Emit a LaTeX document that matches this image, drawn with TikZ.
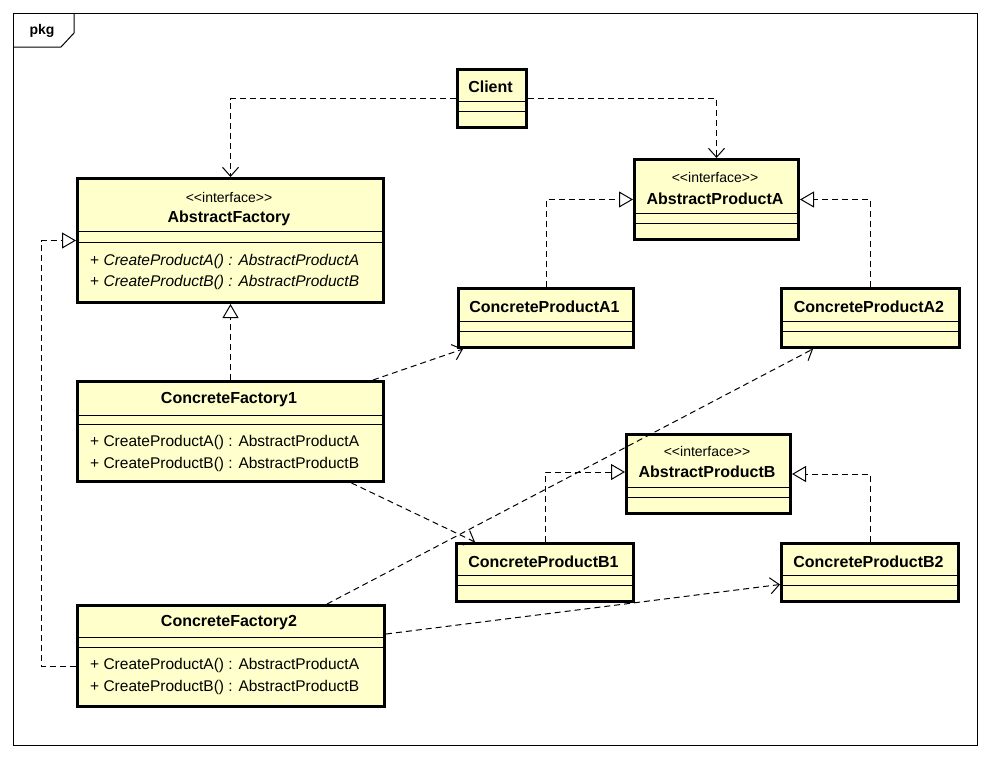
\documentclass[tikz,border=0pt]{standalone}
\usepackage{fontspec}
\setmainfont{Liberation Sans}
\usetikzlibrary{arrows.meta,calc}
\definecolor{umlfill}{HTML}{FFFFCC}
\newcommand{\stereo}[1]{\textless\kern0pt\textless#1\textgreater\kern0pt\textgreater}
\tikzset{
  umlbox/.style={draw=black,line width=3pt,fill=umlfill,inner sep=0pt,anchor=north west},
  sep/.style={draw=black,line width=1pt},
  conn/.style={draw=black,line width=1pt,dash pattern=on 6pt off 4pt},
  dep/.style={conn,-{Straight Barb[length=9pt,width=16pt,line width=1pt]}},
  real/.style={conn,-{Triangle[open,length=14pt,width=16pt,line width=1pt,fill=white]}},
  nm/.style={font=\fontsize{16}{18}\selectfont\bfseries,inner sep=0pt},
  st/.style={font=\fontsize{14}{16}\selectfont,inner sep=0pt},
  op/.style={font=\fontsize{15.5}{17}\selectfont,inner sep=0pt,anchor=west},
}
\begin{document}
\begin{tikzpicture}[x=1pt,y=-1pt]
\useasboundingbox (0,0) rectangle (990,758);
\fill[white] (0,0) rectangle (990,758);
% frame
\draw[line width=1pt] (13,13) rectangle (977,745);
\draw[line width=1pt] (74,13) -- (74,33) -- (61,47) -- (13,47);
\node[font=\fontsize{14}{16}\selectfont\bfseries,inner sep=0pt] (pkg) at (42,31) {pkg};

% Client
\node[umlbox,minimum width=69pt,minimum height=58pt] (cl) at (456,68) {};
\draw[sep] (456,101) -- (525,101); \draw[sep] (456,111) -- (525,111);
\node[nm] (clt) at (490.5,87) {Client};

% AbstractFactory
\node[umlbox,minimum width=306pt,minimum height=124pt] (af) at (76,177) {};
\draw[sep] (76,231) -- (382,231); \draw[sep] (76,242) -- (382,242);
\node[st] (afs) at (229,197) {\stereo{interface}};
\node[nm] (afn) at (229,218) {AbstractFactory};
\node[op] (afo1) at (90,261) {+ \textit{CreateProductA() : AbstractProductA}};
\node[op] (afo2) at (90,282) {+ \textit{CreateProductB() : AbstractProductB}};

% AbstractProductA
\node[umlbox,minimum width=164pt,minimum height=80pt] (apa) at (633,158) {};
\draw[sep] (633,213) -- (797,213); \draw[sep] (633,223) -- (797,223);
\node[st] (apas) at (715,177) {\stereo{interface}};
\node[nm] (apan) at (715,199) {AbstractProductA};

% ConcreteProductA1
\node[umlbox,minimum width=175pt,minimum height=59pt] (cpa1) at (457,287) {};
\draw[sep] (457,321) -- (632,321); \draw[sep] (457,331) -- (632,331);
\node[nm] (cpa1n) at (544.5,307) {ConcreteProductA1};

% ConcreteProductA2
\node[umlbox,minimum width=178pt,minimum height=59pt] (cpa2) at (780,287) {};
\draw[sep] (780,321) -- (958,321); \draw[sep] (780,331) -- (958,331);
\node[nm] (cpa2n) at (869,307) {ConcreteProductA2};

% ConcreteFactory1
\node[umlbox,minimum width=306pt,minimum height=100pt] (cf1) at (76,380) {};
\draw[sep] (76,415) -- (382,415); \draw[sep] (76,424) -- (382,424);
\node[nm] (cf1n) at (229,400) {ConcreteFactory1};
\node[op] (cf1o1) at (90,442) {+ CreateProductA() : AbstractProductA};
\node[op] (cf1o2) at (90,464) {+ CreateProductB() : AbstractProductB};

% AbstractProductB
\node[umlbox,minimum width=164pt,minimum height=79pt] (apb) at (625,433) {};
\draw[sep] (625,487) -- (789,487); \draw[sep] (625,497) -- (789,497);
\node[st] (apbs) at (707,451) {\stereo{interface}};
\node[nm] (apbn) at (707,472) {AbstractProductB};

% ConcreteProductB1
\node[umlbox,minimum width=177pt,minimum height=58pt] (cpb1) at (455,542) {};
\draw[sep] (455,575) -- (632,575); \draw[sep] (455,585) -- (632,585);
\node[nm] (cpb1n) at (543.5,562) {ConcreteProductB1};

% ConcreteProductB2
\node[umlbox,minimum width=177pt,minimum height=58pt] (cpb2) at (780,542) {};
\draw[sep] (780,575) -- (957,575); \draw[sep] (780,585) -- (957,585);
\node[nm] (cpb2n) at (868.5,562) {ConcreteProductB2};

% ConcreteFactory2
\node[umlbox,minimum width=307pt,minimum height=101pt] (cf2) at (76,604) {};
\draw[sep] (76,637) -- (383,637); \draw[sep] (76,647) -- (383,647);
\node[nm] (cf2n) at (229,623) {ConcreteFactory2};
\node[op] (cf2o1) at (90,665) {+ CreateProductA() : AbstractProductA};
\node[op] (cf2o2) at (90,687) {+ CreateProductB() : AbstractProductB};

% connectors
\draw[dep] (cl.west) -| (af.north);
\draw[dep] (cl.east) -| (apa.north);
\draw[real] (cpa1.north) |- (apa.west);
\draw[real] (cpa2.north) |- (apa.east);
\draw[real] (cf1.north) -- (af.south);
\draw[real] ([yshift=-10pt]cf2.west) -- ++(-35,0) |- (af.west);
\draw[dep] ([xshift=-12pt]cf1.north east) -- ([xshift=6pt]cpa1.south west);
\draw[dep] ([xshift=121pt]cf1.south) -- ([xshift=20pt]cpb1.north west);
\draw[dep] ([xshift=96pt]cf2.north) -- ([xshift=33pt]cpa2.south west);
\draw[dep] ([yshift=22pt]cf2.east) -- ([yshift=-12pt]cpb2.west);
\draw[real] (cpb1.north) |- ([yshift=2pt]apb.west);
\draw[real] (cpb2.north) |- (apb.east);
\end{tikzpicture}
\end{document}
